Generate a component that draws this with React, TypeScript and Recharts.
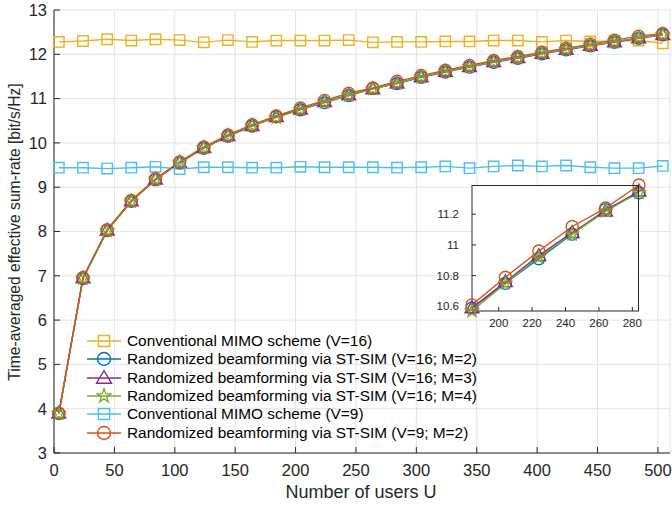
import { LineChart, Line, XAxis, YAxis, CartesianGrid } from 'recharts';

const users = [4, 24, 44, 64, 84, 104, 124, 144, 164, 184, 204, 224, 244, 264, 284, 304, 324, 344, 364, 384, 404, 424, 444, 464, 484, 504];

const mimoV16 = [12.28, 12.3, 12.34, 12.31, 12.34, 12.32, 12.27, 12.32, 12.28, 12.31, 12.31, 12.31, 12.32, 12.27, 12.28, 12.28, 12.29, 12.29, 12.31, 12.31, 12.28, 12.31, 12.29, 12.3, 12.31, 12.25];
const stV16M2 = [3.89, 6.94, 8.02, 8.68, 9.17, 9.55, 9.88, 10.15, 10.38, 10.59, 10.75, 10.91, 11.07, 11.23, 11.34, 11.48, 11.6, 11.71, 11.82, 11.91, 12.01, 12.1, 12.19, 12.27, 12.36, 12.44];
const stV16M3 = [3.9, 6.95, 8.03, 8.69, 9.18, 9.56, 9.89, 10.16, 10.39, 10.59, 10.76, 10.93, 11.08, 11.22, 11.35, 11.49, 11.61, 11.72, 11.83, 11.92, 12.02, 12.11, 12.2, 12.28, 12.37, 12.44];
const stV16M4 = [3.89, 6.94, 8.02, 8.68, 9.18, 9.56, 9.89, 10.16, 10.39, 10.57, 10.75, 10.92, 11.07, 11.22, 11.34, 11.49, 11.61, 11.72, 11.83, 11.92, 12.02, 12.11, 12.2, 12.28, 12.37, 12.44];
const mimoV9 = [9.44, 9.44, 9.42, 9.44, 9.46, 9.41, 9.45, 9.45, 9.44, 9.44, 9.46, 9.45, 9.45, 9.45, 9.44, 9.45, 9.47, 9.43, 9.47, 9.49, 9.47, 9.49, 9.45, 9.43, 9.43, 9.48];
const stV9M2 = [3.9, 6.96, 8.04, 8.7, 9.19, 9.57, 9.91, 10.18, 10.41, 10.61, 10.79, 10.96, 11.12, 11.24, 11.39, 11.52, 11.64, 11.75, 11.86, 11.95, 12.05, 12.14, 12.23, 12.32, 12.41, 12.47];

const xTicks = [0, 50, 100, 150, 200, 250, 300, 350, 400, 450, 500];
const yTicks = [3, 4, 5, 6, 7, 8, 9, 10, 11, 12, 13];
const insetXTicks = [200, 220, 240, 260, 280];
const insetYTicks = [10.6, 10.8, 11, 11.2];

const seriesNames = [
  'Conventional MIMO scheme (V=16)',
  'Randomized beamforming via ST-SIM (V=16; M=2)',
  'Randomized beamforming via ST-SIM (V=16; M=3)',
  'Randomized beamforming via ST-SIM (V=16; M=4)',
  'Conventional MIMO scheme (V=9)',
  'Randomized beamforming via ST-SIM (V=9; M=2)',
];

const FONT = 'Liberation Sans, Arial, Helvetica, sans-serif';
const INK = '#262626';

const series = [
  { key: 'mimoV16', color: '#EDB120', shape: 'square' },
  { key: 'stV16M2', color: '#0072BD', shape: 'circle' },
  { key: 'stV16M3', color: '#7E2F8E', shape: 'triangle' },
  { key: 'stV16M4', color: '#77AC30', shape: 'star' },
  { key: 'mimoV9', color: '#4DBEEE', shape: 'square' },
  { key: 'stV9M2', color: '#D95319', shape: 'circle' },
];

const data = users.map((u, i) => ({
  u,
  mimoV16: mimoV16[i],
  stV16M2: stV16M2[i],
  stV16M3: stV16M3[i],
  stV16M4: stV16M4[i],
  mimoV9: mimoV9[i],
  stV9M2: stV9M2[i],
}));

const insetData = data.filter((d) => d.u >= 184 && d.u <= 284);

function markerPath(shape: string, cx: number, cy: number, r: number) {
  if (shape === 'square') {
    return `M${cx - r},${cy - r}h${2 * r}v${2 * r}h${-2 * r}Z`;
  }
  if (shape === 'triangle') {
    const h = r * 1.15;
    return `M${cx},${cy - h}L${cx + h},${cy + h * 0.7}L${cx - h},${cy + h * 0.7}Z`;
  }
  if (shape === 'star') {
    let p = '';
    for (let k = 0; k < 10; k++) {
      const rr = k % 2 === 0 ? r * 1.1 : r * 0.45;
      const a = -Math.PI / 2 + (k * Math.PI) / 5;
      p += `${k === 0 ? 'M' : 'L'}${cx + rr * Math.cos(a)},${cy + rr * Math.sin(a)}`;
    }
    return p + 'Z';
  }
  return '';
}

function Marker({ shape, color, cx, cy, r }: { shape: string; color: string; cx: number; cy: number; r: number }) {
  if (shape === 'circle') {
    return <circle cx={cx} cy={cy} r={r} fill="none" stroke={color} strokeWidth={1.4} />;
  }
  return <path d={markerPath(shape, cx, cy, r)} fill="none" stroke={color} strokeWidth={1.4} />;
}

function makeDot(shape: string, color: string, r: number) {
  return (props: any) => {
    const { cx, cy, index } = props;
    if (cx == null || cy == null) return <g key={index} />;
    return (
      <g key={index}>
        <Marker shape={shape} color={color} cx={cx} cy={cy} r={r} />
      </g>
    );
  };
}

function LegendBox() {
  return (
    <div style={{ position: 'absolute', left: 86, top: 332, fontFamily: FONT, fontSize: 15.4, color: '#000' }}>
      {series.map((s, i) => (
        <div key={s.key} style={{ display: 'flex', alignItems: 'center', height: 18.3 }}>
          <svg width={36} height={18} style={{ marginRight: 5 }}>
            <line x1={1} y1={9} x2={35} y2={9} stroke={s.color} strokeWidth={1.4} />
            <Marker shape={s.shape} color={s.color} cx={18} cy={9} r={s.shape === 'square' ? 5.5 : 6.5} />
          </svg>
          <span style={{ whiteSpace: 'nowrap', lineHeight: '18px' }}>{seriesNames[i]}</span>
        </div>
      ))}
    </div>
  );
}

// y-axis title, centred on the plot's vertical middle
const yLabelContent = () => {
  const cx = 14;
  const cy = 232;
  return (
    <text
      x={cx}
      y={cy}
      transform={`rotate(-90, ${cx}, ${cy})`}
      textAnchor="middle"
      dominantBaseline="central"
      fill={INK}
      fontSize={15.6}
      fontFamily={FONT}
    >
      Time-averaged effective sum-rate [bit/s/Hz]
    </text>
  );
};

const xLabelContent = () => (
  <text x={361} y={492} textAnchor="middle" dominantBaseline="central" fill={INK} fontSize={18} fontFamily={FONT}>
    Number of users U
  </text>
);

export default function App() {
  return (
    <div style={{ position: 'absolute', left: 0, top: 0, width: 672, height: 506, background: '#fff' }}>
      <LineChart width={672} height={506} data={data} margin={{ top: 10, right: 2, left: 0, bottom: 0 }}>
        <CartesianGrid stroke="#e3e3e3" strokeWidth={1} />
        <XAxis
          dataKey="u"
          type="number"
          domain={[0, 510]}
          ticks={xTicks}
          height={53}
          stroke={INK}
          tickSize={-6}
          tickMargin={17}
          tick={{ fill: INK, fontSize: 16.5, fontFamily: FONT }}
          label={{ content: xLabelContent }}
        />
        <YAxis
          type="number"
          domain={[3, 13]}
          ticks={yTicks}
          width={54}
          stroke={INK}
          tickSize={-6}
          tickMargin={13}
          tick={{ fill: INK, fontSize: 16.5, fontFamily: FONT }}
          label={{ content: yLabelContent }}
        />
        {series.map((s) => (
          <Line
            key={s.key}
            dataKey={s.key}
            stroke={s.color}
            strokeWidth={1.4}
            isAnimationActive={false}
            dot={makeDot(s.shape, s.color, s.shape === 'square' ? 5.2 : 6)}
            activeDot={false}
          />
        ))}
      </LineChart>
      <LegendBox />
      <div style={{ position: 'absolute', left: 420, top: 175 }}>
        <LineChart width={230} height={160} data={insetData} margin={{ top: 10, right: 11, left: 0, bottom: 0 }}>
          <CartesianGrid horizontal={false} vertical={false} fill="#fff" fillOpacity={1} />
          <XAxis
            dataKey="u"
            type="number"
            domain={[184, 284]}
            ticks={insetXTicks}
            height={24}
            stroke={INK}
            tickSize={-4}
            tickMargin={12}
            tick={{ fill: INK, fontSize: 11.5, fontFamily: FONT }}
          />
          <YAxis
            type="number"
            domain={[10.57, 11.39]}
            ticks={insetYTicks}
            width={52}
            stroke={INK}
            tickSize={-4}
            tickMargin={17}
            tick={{ fill: INK, fontSize: 11.5, fontFamily: FONT }}
          />
          {series
            .filter((s) => s.shape !== 'square')
            .map((s) => (
              <Line
                key={s.key}
                dataKey={s.key}
                stroke={s.color}
                strokeWidth={1.4}
                isAnimationActive={false}
                dot={makeDot(s.shape, s.color, 6)}
                activeDot={false}
              />
            ))}
        </LineChart>
        {/* top and right edges of the inset box */}
        <div
          style={{
            position: 'absolute',
            left: 52,
            top: 10,
            width: 167,
            height: 126,
            borderTop: `1px solid ${INK}`,
            borderRight: `1px solid ${INK}`,
            boxSizing: 'border-box',
            pointerEvents: 'none',
          }}
        />
      </div>
    </div>
  );
}
